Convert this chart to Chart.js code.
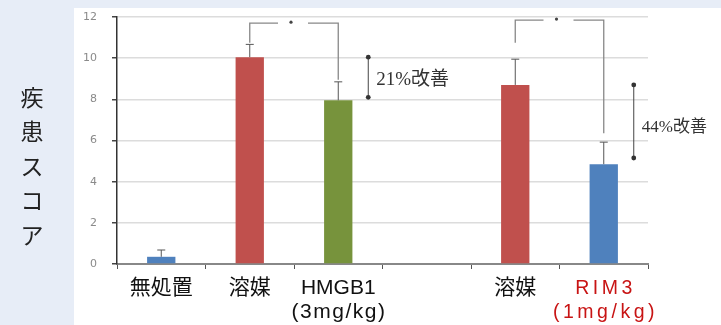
<!DOCTYPE html>
<html>
<head>
<meta charset="utf-8">
<script src="https://cdn.jsdelivr.net/npm/chart.js@4.4.1/dist/chart.umd.min.js"></script>
<style>
    html, body { margin: 0; padding: 0; background: #e7edf7; }
    #wrap { width: 721px; height: 325px; position: relative; }
</style>
</head>
<body>
<div id="wrap"><canvas id="chart" width="721" height="325"></canvas></div>
<script>
const groups = [['無処置'], ['溶媒'], ['HMGB1', '(3mg/kg)'], [''], ['溶媒'], ['RIM3', '(1mg/kg)']];
const scores = [0.35, 10.05, 7.95, null, 8.7, 4.85];
const errors = [0.33, 0.62, 0.9, null, 1.25, 1.07];
const yTitle = ['疾', '患', 'ス', 'コ', 'ア'];

// significance brackets (values in score units)
const brackets = [
    { from: 1, to: 2, top: 11.7, left: 10.75, right: 8.95 },
    { from: 4, to: 5, top: 11.85, left: 10.75, right: 6.35 }
];
// improvement arrows next to a bar
const improvements = [
    { after: 2, from: 10.05, to: 8.1, text: '21%改善' },
    { after: 5, from: 8.7, to: 5.15, text: '44%改善' }
];

// styles
const barColors = ['#4f81bd', '#c0504d', '#77933c', '#ffffff', '#c0504d', '#4f81bd'];
const labelColors = ['#111', '#111', '#111', '#111', '#111', '#c81414'];
const labelSpacing = [0, 0, 1.5, 0, 0, 3.5];
const noteSizes = [19, 17];

const decor = {
    id: 'decor',
    beforeDraw(chart) {
        const ctx = chart.ctx;
        ctx.save();
        ctx.fillStyle = '#e7edf7';
        ctx.fillRect(0, 0, chart.width, chart.height);
        ctx.fillStyle = '#ffffff';
        ctx.fillRect(74, 8, chart.width - 74, chart.height - 8);

        ctx.fillStyle = '#222';
        ctx.font = '23px "Noto Sans CJK JP"';
        ctx.textAlign = 'center';
        ctx.textBaseline = 'middle';
        yTitle.forEach((c, i) => ctx.fillText(c, 32, 97 + i * 34.5));
        ctx.restore();
    },
    afterDraw(chart) {
        // category labels with per-label letter spacing
        const { ctx, scales: { x } } = chart;
        ctx.save();
        ctx.textAlign = 'center';
        ctx.textBaseline = 'alphabetic';
        groups.forEach((lines, i) => {
            const xp = x.getPixelForValue(i);
            ctx.fillStyle = labelColors[i];
            lines.forEach((t, j) => {
                const sp = j === 0 && i !== 5 ? 0 : labelSpacing[i];
                const size = i === 5 ? 19.5 : 21;
                ctx.font = size + 'px "Liberation Sans", "Noto Sans CJK JP", sans-serif';
                ctx.letterSpacing = sp + 'px';
                ctx.fillText(t, xp + sp / 2, 294 + j * 24);
            });
        });
        ctx.restore();
    },
    afterDatasetsDraw(chart) {
        const { ctx, scales: { x, y } } = chart;
        ctx.save();

        // error bars
        ctx.strokeStyle = '#555';
        ctx.lineWidth = 1;
        scores.forEach((v, i) => {
            if (v === null) return;
            const xp = x.getPixelForValue(i);
            const y0 = y.getPixelForValue(v);
            const y1 = y.getPixelForValue(v + errors[i]);
            ctx.beginPath();
            ctx.moveTo(xp, y0);
            ctx.lineTo(xp, y1);
            ctx.moveTo(xp - 4, y1);
            ctx.lineTo(xp + 4, y1);
            ctx.stroke();
        });

        // brackets
        brackets.forEach(b => {
            const xa = x.getPixelForValue(b.from);
            const xb = x.getPixelForValue(b.to);
            const yt = y.getPixelForValue(b.top);
            const mid = (xa + xb) / 2;
            ctx.strokeStyle = '#888';
            ctx.lineWidth = 1.3;
            ctx.beginPath();
            ctx.moveTo(xa, y.getPixelForValue(b.left));
            ctx.lineTo(xa, yt);
            ctx.lineTo(mid - 16, yt);
            ctx.moveTo(mid + 14, yt);
            ctx.lineTo(xb, yt);
            ctx.lineTo(xb, y.getPixelForValue(b.right));
            ctx.stroke();
            ctx.fillStyle = '#444';
            ctx.beginPath();
            ctx.arc(mid - 3, yt - 1, 1.6, 0, Math.PI * 2);
            ctx.fill();
        });

        // improvement arrows
        improvements.forEach((m, k) => {
            const xp = x.getPixelForValue(m.after) + 30;
            const ya = y.getPixelForValue(m.from);
            const yb = y.getPixelForValue(m.to);
            ctx.strokeStyle = '#444';
            ctx.lineWidth = 1;
            ctx.beginPath();
            ctx.moveTo(xp, ya);
            ctx.lineTo(xp, yb);
            ctx.stroke();
            ctx.fillStyle = '#333';
            [ya, yb].forEach(yy => {
                ctx.beginPath();
                ctx.arc(xp, yy, 2.4, 0, Math.PI * 2);
                ctx.fill();
            });
            ctx.font = noteSizes[k] + 'px "Liberation Serif", "Noto Sans CJK JP", serif';
            ctx.textAlign = 'left';
            ctx.textBaseline = 'middle';
            ctx.fillText(m.text, xp + 8, yb - (yb - ya) * 0.42);
        });
        ctx.restore();
    }
};

new Chart(document.getElementById('chart'), {
    type: 'bar',
    data: {
        labels: groups,
        datasets: [{
            data: scores,
            backgroundColor: barColors,
            barPercentage: 0.32,
            categoryPercentage: 1
        }]
    },
    options: {
        responsive: false,
        animation: false,
        layout: { padding: { left: 0, right: 73, top: 17, bottom: 0 } },
        plugins: { legend: { display: false }, tooltip: { enabled: false } },
        scales: {
            x: {
                grid: { display: true, drawOnChartArea: false, drawTicks: true, tickLength: 5, tickColor: '#555', offset: true },
                border: { display: true, color: '#888', width: 2 },
                // labels are drawn by the plugin (letter spacing), keep the axis layout
                ticks: {
                    color: 'rgba(0,0,0,0)',
                    font: { size: 19, family: '"Liberation Sans", "Noto Sans CJK JP", sans-serif' },
                    maxRotation: 0,
                    autoSkip: false
                },
                afterFit(s) { s.height = 61; }
            },
            y: {
                min: 0,
                max: 12,
                ticks: { stepSize: 2, color: '#8a8a8a', font: { size: 11, family: '"DejaVu Sans"' }, padding: 15 },
                grid: { color: '#dcdcdc', lineWidth: 1.5, drawTicks: true, tickLength: 5, tickColor: '#444' },
                border: { display: true, color: '#333', width: 1.5 },
                afterFit(s) {
                    s.width = 117;
                    s.paddingTop = 0;
                    s.paddingBottom = 0;
                }
            }
        }
    },
    plugins: [decor]
});
</script>
</body>
</html>
